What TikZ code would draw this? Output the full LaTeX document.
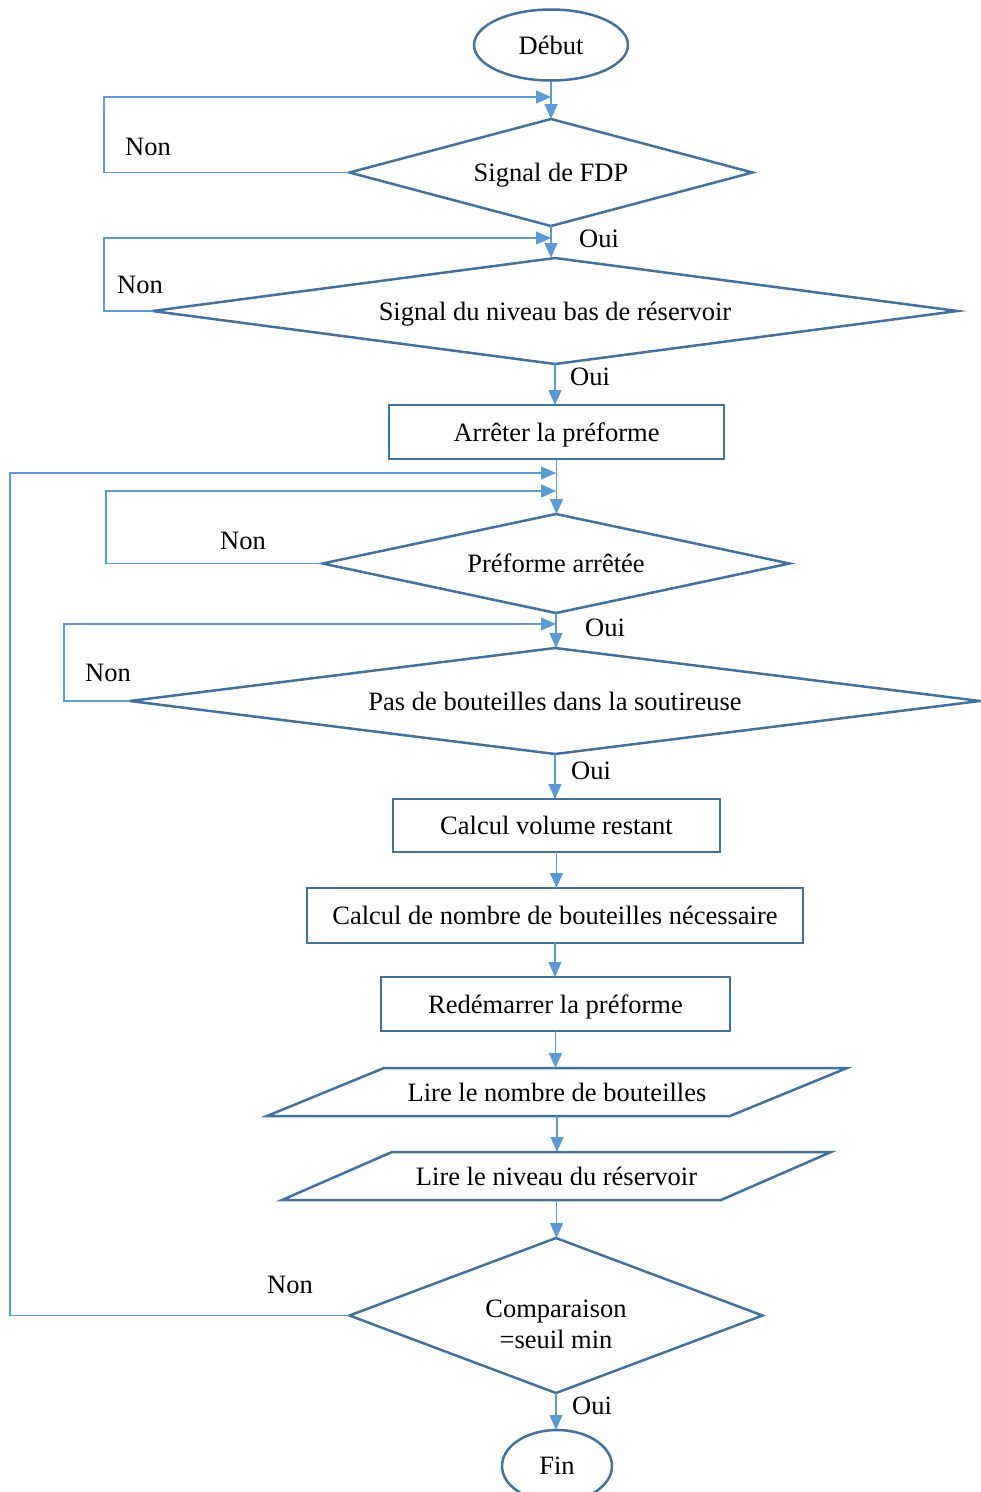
\documentclass[tikz,border=0pt]{standalone}
\usepackage{fontspec}
\setmainfont{Liberation Serif}
\usetikzlibrary{shapes.geometric,arrows.meta,calc}
\definecolor{shp}{HTML}{41719C}
\definecolor{cn}{HTML}{5B9BD5}
\begin{document}
\begin{tikzpicture}[x=1pt,y=-1pt,
  font=\fontsize{26.5}{31}\selectfont,
  base/.style={draw=shp,line width=2.5pt,inner sep=0pt,outer sep=0pt,align=center,text depth=0pt},
  term/.style={base,ellipse},
  proc/.style={base,rectangle},
  dec/.style={base,diamond},
  io/.style={rectangle,inner sep=0pt,outer sep=0pt,text depth=0pt},
  ioline/.style={draw=shp,line width=2.5pt,line join=miter},
  conn/.style={draw=cn,line width=1.3pt,-{Triangle[length=15pt,width=13pt]}},
  lbl/.style={inner sep=0pt}
]
\useasboundingbox (0,0) rectangle (981,1492);

% nodes
\node[term,minimum width=154,minimum height=71] (debut) at (551,45) {Début};
\node[dec,minimum width=403,minimum height=107,aspect=3.77] (d1) at (551,172.5) {Signal de FDP};
\node[dec,minimum width=805,minimum height=106,aspect=7.6] (d2) at (555,311) {Signal du niveau bas de réservoir};
\node[proc,minimum width=335,minimum height=54] (b1) at (556.5,432) {Arrêter la préforme};
\node[dec,minimum width=467,minimum height=99,aspect=4.7] (d3) at (556,563.5) {Préforme arrêtée};
\node[dec,minimum width=850,minimum height=106,aspect=8.0] (d4) at (555,701) {Pas de bouteilles dans la soutireuse};
\node[proc,minimum width=327,minimum height=53] (b2) at (556.5,825.5) {Calcul volume restant};
\node[proc,minimum width=496,minimum height=55] (b3) at (555,915.5) {Calcul de nombre de bouteilles nécessaire};
\node[proc,minimum width=349,minimum height=54] (b4) at (555.5,1004) {Redémarrer la préforme};
\node[io,minimum width=463,minimum height=48] (p1) at (557,1092) {Lire le nombre de bouteilles};
\draw[ioline] ($(p1.north west)+(58.5,0)$) -- ($(p1.north east)+(58.5,0)$) -- ($(p1.south east)+(-58.5,0)$) -- ($(p1.south west)+(-58.5,0)$) -- cycle;
\node[io,minimum width=439,minimum height=48] (p2) at (556.5,1176) {Lire le niveau du réservoir};
\draw[ioline] ($(p2.north west)+(55,0)$) -- ($(p2.north east)+(55,0)$) -- ($(p2.south east)+(-55,0)$) -- ($(p2.south west)+(-55,0)$) -- cycle;
\node[dec,minimum width=413,minimum height=155,aspect=2.66] (d5) at (556,1315.5) {\raisebox{2pt}{\begin{tabular}{@{}c@{}}Comparaison\\=seuil min\end{tabular}}};
\node[term,minimum width=110,minimum height=72] (fin) at (557,1466) {Fin};

% junction points
\coordinate (j1) at (551,97);
\coordinate (j2) at (551,238);
\coordinate (j5) at (556,473);
\coordinate (j3) at (556,491);
\coordinate (j4) at (556,624);

% main flow
\draw[conn] (debut.south) -- (debut.south |- d1.north);
\draw[conn] (d1.south) -- (d1.south |- d2.north);
\draw[conn] (d2.south) -- (d2.south |- b1.north);
\draw[conn] (b1.south) -- (b1.south |- d3.north);
\draw[conn] (d3.south) -- (d3.south |- d4.north);
\draw[conn] (d4.south) -- (d4.south |- b2.north);
\draw[conn] (b2.south) -- (b2.south |- b3.north);
\draw[conn] (b3.south) -- (b3.south |- b4.north);
\draw[conn] (b4.south) -- (b4.south |- p1.north);
\draw[conn] (p1.south) -- (p1.south |- p2.north);
\draw[conn] (p2.south) -- (p2.south |- d5.north);
\draw[conn] (d5.south) -- (d5.south |- fin.north);

% loops
\draw[conn] (d1.west) -- ++(-245.5,0) |- (j1);
\draw[conn] (d2.west) -- ++(-48.5,0) |- (j2);
\draw[conn] (d3.west) -- ++(-216.5,0) |- (j3);
\draw[conn] (d4.west) -- ++(-66,0) |- (j4);
\draw[conn] (d5.west) -- ++(-339.5,0) |- (j5);

% labels
\node[lbl] (n1) at (148,147) {Non};
\node[lbl] (n2) at (140,285) {Non};
\node[lbl] (n3) at (243,541) {Non};
\node[lbl] (n4) at (108,673) {Non};
\node[lbl] (n5) at (290,1285) {Non};
\node[lbl] (o1) at (599,239) {Oui};
\node[lbl] (o2) at (590,377) {Oui};
\node[lbl] (o3) at (605,628) {Oui};
\node[lbl] (o4) at (591,771) {Oui};
\node[lbl] (o5) at (592,1406) {Oui};
\end{tikzpicture}
\end{document}
